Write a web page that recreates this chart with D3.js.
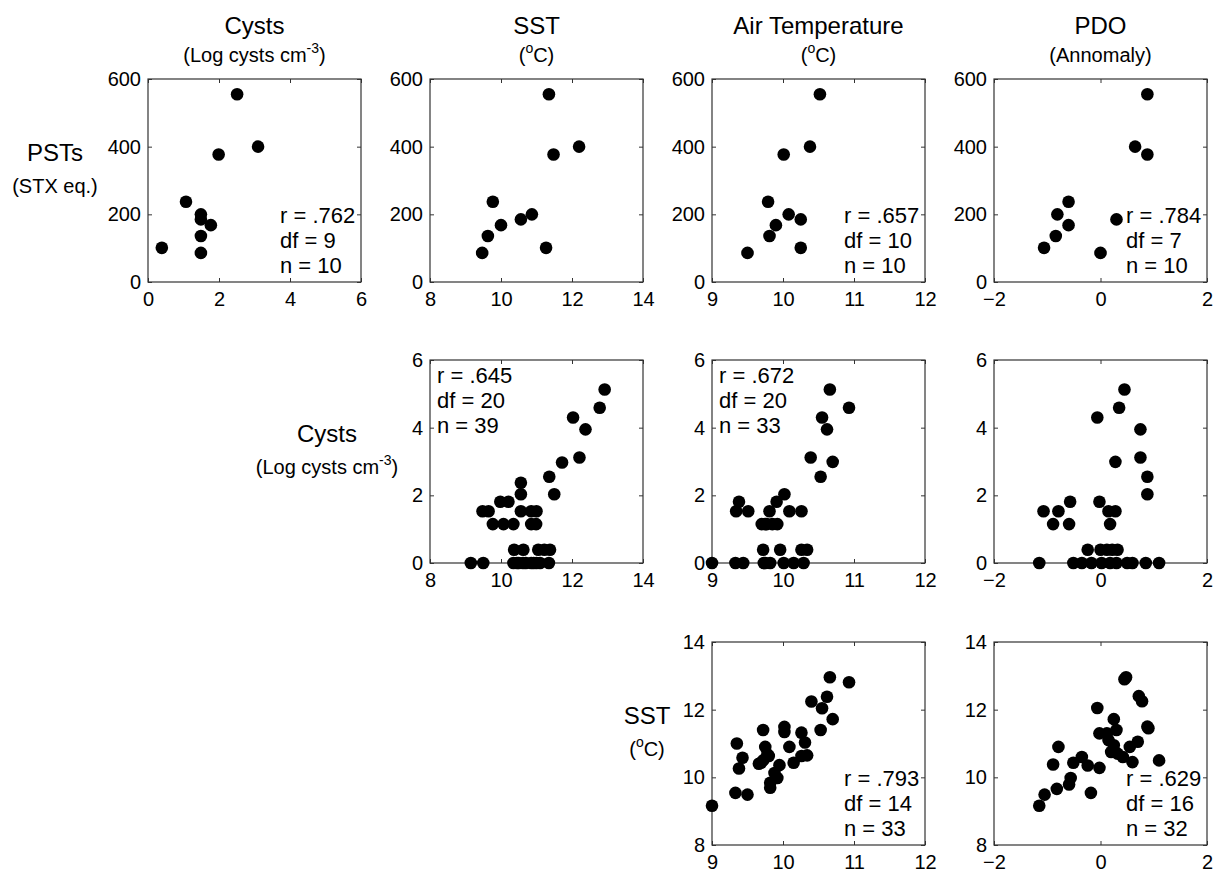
<!DOCTYPE html>
<html>
<head>
<meta charset="utf-8">
<script src="https://cdn.jsdelivr.net/npm/d3@7"></script>
<style>
  body { margin: 0; background: #fff; }
  text { font-family: "Liberation Sans", Arial, sans-serif; fill: #000; }
</style>
</head>
<body>
<div id="chart"></div>
<script>
// column / row variables
const colNames = ["Cysts", "SST", "Air Temperature", "PDO"];
const colUnits = [["(Log cysts cm", "-3", ")"], ["(", "o", "C)"], ["(", "o", "C)"], ["(Annomaly)", "", ""]];
const rowNames = ["PSTs", "Cysts", "SST"];
const rowUnits = [["(STX eq.)", "", ""], ["(Log cysts cm", "-3", ")"], ["(", "o", "C)"]];

const colDomains = [[0, 6], [8, 14], [9, 12], [-2, 2]];
const colTicks = [[0, 2, 4, 6], [8, 10, 12, 14], [9, 10, 11, 12], [-2, 0, 2]];
const rowDomains = [[0, 600], [0, 6], [8, 14]];
const rowTicks = [[0, 200, 400, 600], [0, 2, 4, 6], [8, 10, 12, 14]];

// row 1: PSTs
const pstsY = [555, 400, 377, 237, 200, 185, 168, 136, 86, 101];
const cystsX1 = [2.51, 3.10, 1.99, 1.07, 1.49, 1.49, 1.77, 1.49, 1.49, 0.39];
const sstX1 = [11.35, 12.20, 11.48, 9.77, 10.87, 10.56, 10.00, 9.63, 9.47, 11.27];
const airX1 = [10.52, 10.38, 10.01, 9.79, 10.08, 10.25, 9.90, 9.81, 9.50, 10.25];
const pdoX1 = [0.88, 0.65, 0.88, -0.60, -0.81, 0.30, -0.60, -0.84, 0.00, -1.06];

// row 2: Cysts vs SST
const sstX2 = [12.92, 12.78, 12.03, 12.38, 12.21, 11.72, 11.36, 11.50, 10.56, 10.56,
  9.98, 10.21, 9.48, 9.65, 10.56, 10.85, 11.00, 9.77, 10.07, 10.35, 10.85, 10.99,
  10.37, 10.63, 11.05, 11.22, 11.38, 9.15, 9.50, 10.35, 10.45, 10.50, 10.62, 10.70,
  10.85, 10.92, 11.00, 11.10, 11.35];
const cystsY2 = [5.13, 4.59, 4.30, 3.95, 3.12, 2.97, 2.55, 2.03, 2.37, 2.03,
  1.81, 1.81, 1.53, 1.53, 1.53, 1.53, 1.53, 1.15, 1.15, 1.15, 1.15, 1.15,
  0.39, 0.39, 0.39, 0.39, 0.39, 0, 0, 0, 0, 0, 0, 0,
  0, 0, 0, 0, 0];
// row 2: Cysts vs Air temperature
const airX2 = [10.66, 10.93, 10.55, 10.62, 10.39, 10.70, 10.53, 10.02, 9.91, 9.38,
  9.34, 9.51, 9.81, 10.09, 10.26, 9.70, 9.75, 9.77, 9.85, 9.92,
  9.72, 9.96, 10.26, 10.34, 9.00, 9.33, 9.44, 9.73, 9.75, 9.82, 10.01, 10.15, 10.29];
const cystsY3 = [5.13, 4.59, 4.30, 3.95, 3.12, 2.99, 2.55, 2.03, 1.81, 1.81,
  1.53, 1.53, 1.53, 1.53, 1.53, 1.15, 1.15, 1.15, 1.15, 1.15,
  0.39, 0.39, 0.39, 0.39, 0, 0, 0, 0, 0, 0, 0, 0, 0];
// row 2: Cysts vs PDO
const pdoX2 = [0.45, 0.35, -0.06, 0.75, 0.75, 0.28, 0.88, 0.88, -0.02, -0.57,
  -1.07, -0.79, 0.15, 0.28, -0.89, -0.59, 0.18, -0.24, 0.00, 0.12, 0.22, 0.32,
  -1.15, -0.51, -0.35, -0.17, 0.02, 0.18, 0.30, 0.50, 0.60, 0.85, 1.10];
const cystsY4 = [5.13, 4.59, 4.30, 3.95, 3.12, 2.99, 2.55, 2.03, 1.81, 1.81,
  1.53, 1.53, 1.53, 1.53, 1.15, 1.15, 1.15, 0.39, 0.39, 0.39, 0.39, 0.39,
  0, 0, 0, 0, 0, 0, 0, 0, 0, 0, 0];

// row 3: SST vs Air temperature
const airX3 = [10.66, 10.93, 10.62, 10.40, 10.55, 10.70, 10.53, 9.72, 10.02, 10.02,
  10.26, 9.35, 9.75, 10.09, 10.31, 9.43, 9.78, 9.80, 9.69, 9.66, 9.38, 10.15,
  10.26, 10.34, 9.95, 9.88, 9.92, 9.82, 9.82, 9.33, 9.50, 9.00, 9.72];
const sstY3 = [12.96, 12.81, 12.38, 12.24, 12.04, 11.72, 11.40, 11.40, 11.49, 11.34,
  11.32, 11.00, 10.90, 10.90, 11.03, 10.58, 10.68, 10.63, 10.43, 10.40, 10.26, 10.43,
  10.63, 10.65, 10.36, 10.13, 9.98, 9.84, 9.69, 9.54, 9.49, 9.16, 10.50];
// row 3: SST vs PDO
const pdoX3 = [-1.15, -1.05, -0.82, -0.59, -0.56, -0.79, -0.89, -0.51, -0.35, -0.24,
  -0.18, -0.06, -0.02, -0.02, 0.48, 0.45, 0.72, 0.78, 0.25, 0.88, 0.90, 0.30,
  0.12, 0.70, 0.25, 0.55, 0.20, 0.32, 0.42, 1.10, 0.60, 0.15];
const sstY4 = [9.16, 9.49, 9.66, 9.79, 9.98, 10.90, 10.38, 10.43, 10.60, 10.35,
  9.54, 12.05, 11.30, 10.28, 12.96, 12.90, 12.40, 12.25, 11.72, 11.50, 11.45, 11.40,
  11.30, 11.05, 10.95, 10.90, 10.75, 10.70, 10.60, 10.50, 10.45, 11.10];

const stats = [
  {row: 0, col: 0, lines: ["r = .762", "df = 9", "n = 10"], at: "br"},
  {row: 0, col: 2, lines: ["r = .657", "df = 10", "n = 10"], at: "br"},
  {row: 0, col: 3, lines: ["r = .784", "df = 7", "n = 10"], at: "br"},
  {row: 1, col: 1, lines: ["r = .645", "df = 20", "n = 39"], at: "tl"},
  {row: 1, col: 2, lines: ["r = .672", "df = 20", "n = 33"], at: "tl"},
  {row: 2, col: 2, lines: ["r = .793", "df = 14", "n = 33"], at: "br"},
  {row: 2, col: 3, lines: ["r = .629", "df = 16", "n = 32"], at: "br"}
];

const panels = [
  {row: 0, col: 0, x: cystsX1, y: pstsY},
  {row: 0, col: 1, x: sstX1, y: pstsY},
  {row: 0, col: 2, x: airX1, y: pstsY},
  {row: 0, col: 3, x: pdoX1, y: pstsY},
  {row: 1, col: 1, x: sstX2, y: cystsY2},
  {row: 1, col: 2, x: airX2, y: cystsY3},
  {row: 1, col: 3, x: pdoX2, y: cystsY4},
  {row: 2, col: 2, x: airX3, y: sstY3},
  {row: 2, col: 3, x: pdoX3, y: sstY4}
];

const width = 1225, height = 874;
const colLeft = [148, 430, 712, 994];
const rowTop = [79, 360, 642];
const pw = 213, ph = 203;
const rowLabelX = [55, 327, 647];

const svg = d3.select("#chart").append("svg")
  .attr("width", width).attr("height", height);

function addLabel(g, x, y, size, parts) {
  const t = g.append("text").attr("x", x).attr("y", y)
    .attr("text-anchor", "middle").style("font-size", size + "px");
  t.append("tspan").text(parts[0]);
  if (parts[1]) {
    t.append("tspan").attr("dy", -size * 0.45).style("font-size", (size * 0.7) + "px").text(parts[1]);
    t.append("tspan").attr("dy", size * 0.45).text(parts[2]);
  }
}

// column headers
colNames.forEach((name, i) => {
  const cx = colLeft[i] + pw / 2;
  addLabel(svg, cx, 34, 24, [name]);
  addLabel(svg, cx, 62, 20, colUnits[i]);
});

// row labels
rowNames.forEach((name, i) => {
  const cy = rowTop[i] + ph / 2;
  addLabel(svg, rowLabelX[i], cy - 20, 24, [name]);
  addLabel(svg, rowLabelX[i], cy + 12, 20, rowUnits[i]);
});

const tick = 4;
const fmt = d3.format("~g");
panels.forEach(p => {
  const g = svg.append("g").attr("transform", `translate(${colLeft[p.col]},${rowTop[p.row]})`);
  const x = d3.scaleLinear().domain(colDomains[p.col]).range([0, pw]);
  const y = d3.scaleLinear().domain(rowDomains[p.row]).range([ph, 0]);

  g.append("g").attr("transform", `translate(0,${ph})`)
    .call(d3.axisBottom(x).tickValues(colTicks[p.col]).tickFormat(fmt)
      .tickSizeInner(-tick).tickSizeOuter(0).tickPadding(10));
  g.append("g")
    .call(d3.axisTop(x).tickValues(colTicks[p.col]).tickSizeInner(-tick).tickSizeOuter(0).tickFormat(""));
  g.append("g")
    .call(d3.axisLeft(y).tickValues(rowTicks[p.row]).tickFormat(fmt)
      .tickSizeInner(-tick).tickSizeOuter(0).tickPadding(7));
  g.append("g").attr("transform", `translate(${pw},0)`)
    .call(d3.axisRight(y).tickValues(rowTicks[p.row]).tickSizeInner(-tick).tickSizeOuter(0).tickFormat(""));

  g.selectAll(".domain").remove();
  g.selectAll(".tick line").attr("stroke", "#333");
  g.selectAll(".tick text").style("font-size", "20px")
    .style("font-family", '"Liberation Sans", Arial, sans-serif').attr("fill", "#000");

  g.append("rect").attr("width", pw).attr("height", ph)
    .attr("fill", "none").attr("stroke", "#333").attr("stroke-width", 1.2);

  g.selectAll("circle").data(p.x.map((v, i) => [v, p.y[i]])).join("circle")
    .attr("cx", d => x(d[0])).attr("cy", d => y(d[1])).attr("r", 6.3).attr("fill", "#000");
});

// statistics text
stats.forEach(s => {
  const g = svg.append("g").attr("transform", `translate(${colLeft[s.col]},${rowTop[s.row]})`);
  const x0 = s.at === "br" ? 132 : 7;
  const y0 = s.at === "br" ? ph - 59 : 23;
  s.lines.forEach((line, i) => {
    g.append("text").attr("x", x0).attr("y", y0 + i * 25)
      .style("font-size", "22px").text(line);
  });
});
</script>
</body>
</html>
